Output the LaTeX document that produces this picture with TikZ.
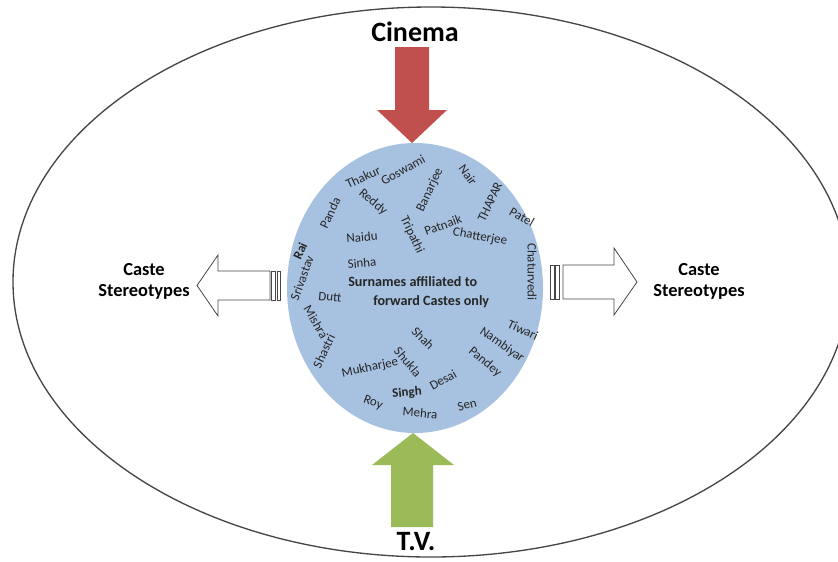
\documentclass[tikz,border=0pt]{standalone}
\usepackage{fontspec}
\setmainfont{Carlito}
\usetikzlibrary{shapes.geometric}
\definecolor{cblue}{RGB}{167,193,224}
\definecolor{cred}{RGB}{192,80,77}
\definecolor{cgreen}{RGB}{155,187,89}
\definecolor{cline}{RGB}{70,70,70}
\begin{document}
\begin{tikzpicture}[x=0.75pt,y=-0.75pt,
  nm/.style={font=\fontsize{9.7}{11}\selectfont, inner sep=0pt, text=black!85},
  nmb/.style={nm, font=\fontsize{9.7}{11}\selectfont\bfseries},
  blockarrow/.style={draw=cline, line width=0.6pt, fill=white, line join=miter},
  media/.style={font=\fontsize{21}{24}\selectfont\bfseries, inner sep=0pt},
  stereo/.style={font=\fontsize{13.8}{15.75}\selectfont\bfseries, align=center, inner sep=0pt}]
\useasboundingbox (0,0) rectangle (838,561);
% outer ellipse
\draw[cline, line width=1pt] (431,282) ellipse [x radius=313.5pt, y radius=206.25pt];
% central disc
\node[ellipse, fill=cblue, minimum width=192pt, minimum height=217.5pt, inner sep=0pt] (hub) at (415,288) {};
% Cinema arrow
\fill[cred] (395,47) -- (429,47) -- (429,110) -- (447,110) -- (412,143) -- (377,110) -- (395,110) -- cycle;
\node[media] (cinema) at (415,32) {Cinema};
% TV arrow
\fill[cgreen] (391,527) -- (433,527) -- (433,465) -- (454,465) -- (413,433) -- (372,465) -- (391,465) -- cycle;
\node[media] (tv) at (416,542) {T.V.};
% left striped arrow
\draw[blockarrow] (270,271) -- (218,271) -- (218,255) -- (197,285.5) -- (218,316) -- (218,300) -- (270,300) -- cycle;
\draw[blockarrow] (271.5,271) rectangle (275.5,300);
\draw[blockarrow] (277,271) rectangle (280.5,300);
% right striped arrow
\draw[blockarrow] (563,265) -- (614,265) -- (614,248) -- (637,282) -- (614,315) -- (614,299) -- (563,299) -- cycle;
\draw[blockarrow] (550,265) rectangle (554,299);
\draw[blockarrow] (555.5,265) rectangle (559,299);
% labels
\node[stereo] (csl) at (144,281) {Caste\\Stereotypes};
\node[stereo] (csr) at (699,281) {Caste\\Stereotypes};
\node[nmb, anchor=west, align=left, font=\fontsize{10.6}{14.25}\selectfont\bfseries] (title) at (348,292.5) {Surnames affiliated to\\\hspace*{18.75pt}forward Castes only};
% names
\node[nm, rotate=25] (n1) at (363,177) {Thakur};
\node[nm, rotate=30] (n2) at (403,170) {Goswami};
\node[nm, rotate=-40] (n3) at (373,202) {Reddy};
\node[nm, rotate=65] (n4) at (430,190) {Banarjee};
\node[nm, rotate=-55] (n5) at (468,175) {Nair};
\node[nm, rotate=65] (n6) at (490,202) {THAPAR};
\node[nm, rotate=-30] (n7) at (522,217) {Patel};
\node[nm, rotate=65] (n8) at (330,213) {Panda};
\node[nm, rotate=-65] (n9) at (412,235) {Tripathi};
\node[nm, rotate=20] (n10) at (443,225) {Patnaik};
\node[nm, rotate=-10] (n11) at (480,237) {Chatterjee};
\node[nm, rotate=5] (n12) at (362,237) {Naidu};
\node[nmb, rotate=65] (n13) at (300,251) {Rai};
\node[nm, rotate=5] (n14) at (362,263) {Sinha};
\node[nm, rotate=-90] (n15) at (532,272) {Chaturvedi};
\node[nm, rotate=70] (n16) at (302,278) {Srivastav};
\node[nm, rotate=-5] (n17) at (330,297) {Dutt};
\node[nm, rotate=-60] (n18) at (316,322) {Mishra};
\node[nm, rotate=65] (n19) at (324,351) {Shastri};
\node[nm, rotate=-45] (n20) at (423,338) {Shah};
\node[nm, rotate=-25] (n21) at (523,330) {Tiwari};
\node[nm, rotate=-35] (n22) at (502,345) {Nambiyar};
\node[nm, rotate=-40] (n23) at (485,362) {Pandey};
\node[nm, rotate=-50] (n24) at (408,362) {Shukla};
\node[nm, rotate=12] (n25) at (370,368) {Mukharjee};
\node[nm, rotate=30] (n26) at (443,380) {Desai};
\node[nmb, rotate=5] (n27) at (407,393) {Singh};
\node[nm, rotate=-20] (n28) at (373,403) {Roy};
\node[nm, rotate=-5] (n29) at (420,413) {Mehra};
\node[nm, rotate=15] (n30) at (467,405) {Sen};
\end{tikzpicture}
\end{document}
